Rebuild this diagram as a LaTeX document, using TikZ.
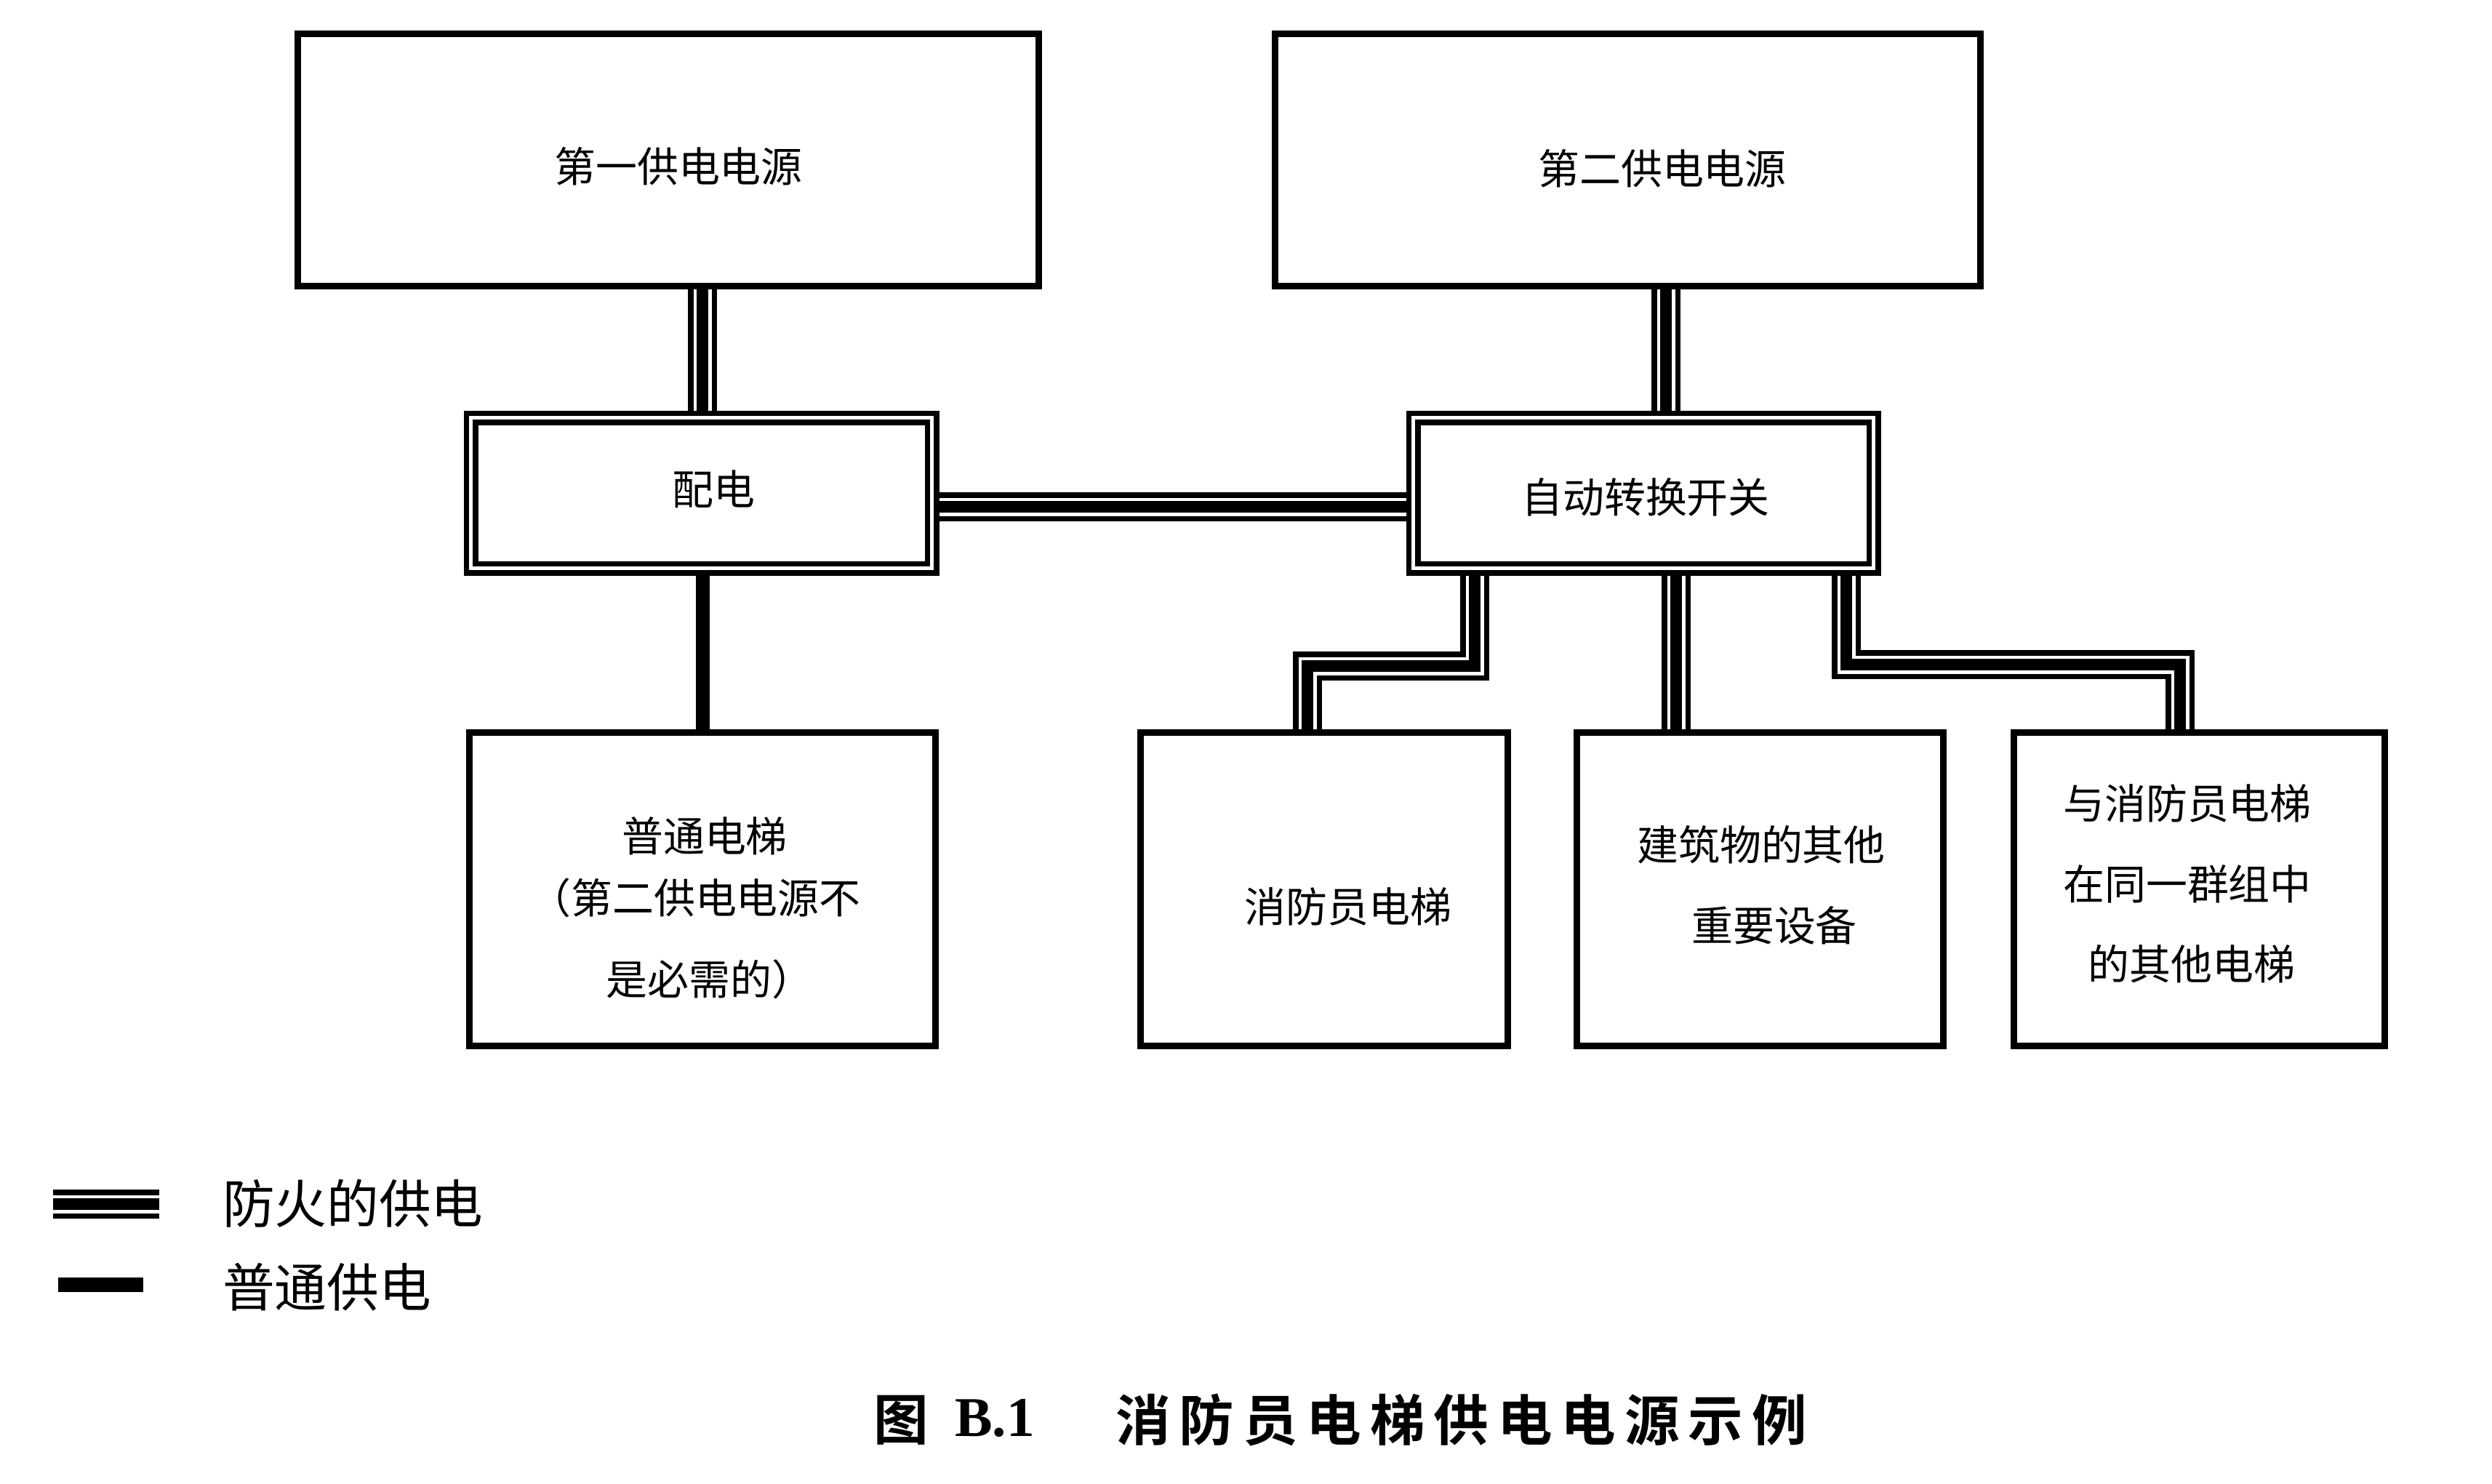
\documentclass[tikz,border=0pt]{standalone}
\usepackage{fontspec}
\usetikzlibrary{backgrounds}
\newfontfamily\cjk{Noto Sans CJK SC}
\newfontfamily\cjkbold{Noto Sans CJK SC Bold}
\newfontfamily\serifcap{Liberation Serif}
\newcommand\capgap{\hspace{3.4pt}}
\begin{document}
\begin{tikzpicture}[
  every node/.style={inner sep=0pt, outer sep=0pt},
  box/.style 2 args={draw=black, fill=white, line width=0.09cm, minimum width=#1cm, minimum height=#2cm},
  dbox/.style 2 args={draw=black, fill=white, double=white, double distance=0.05cm, line width=0.075cm, minimum width=#1cm, minimum height=#2cm},
  fire/.style={draw=black, line width=0.40cm, postaction={draw=white, line width=0.25cm}, postaction={draw=black, line width=0.16cm}},
  plainline/.style={draw=black, line width=0.19cm},
  lbl/.style={font=\cjk\fontsize{16.2pt}{19pt}\selectfont},
  leg/.style={font=\cjk\fontsize{20.4pt}{23pt}\selectfont, anchor=west},
  captxt/.style={font=\cjkbold\fontsize{21.5pt}{25pt}\selectfont},
]
\useasboundingbox (0,0) rectangle (34.27,-20.40);

% boxes
\node[box={10.19}{3.47}] (src1) at (9.19,-2.20) {};
\node[box={9.70}{3.47}] (src2) at (22.385,-2.20) {};
\node[dbox={6.34}{2.07}] (pd) at (9.645,-6.78) {};
\node[dbox={6.33}{2.07}] (ats) at (22.60,-6.78) {};
\node[box={6.41}{4.31}] (lift) at (9.66,-12.23) {};
\node[box={5.05}{4.31}] (fla) at (18.21,-12.23) {};
\node[box={5.04}{4.31}] (flb) at (24.205,-12.23) {};
\node[box={5.10}{4.31}] (flc) at (30.245,-12.23) {};

% texts
\node[lbl] (t1) at (9.33,-2.29) {第一供电电源};
\node[lbl] (t2) at (22.86,-2.32) {第二供电电源};
\node[lbl] (tpd) at (9.81,-6.73) {配电};
\node[lbl] (tats) at (22.63,-6.84) {自动转换开关};
\node[lbl] (tl1) at (9.69,-11.50) {普通电梯};
\node[lbl] (tl2) at (9.56,-12.35) {（第二供电电源不};
\node[lbl] (tl3) at (9.76,-13.47) {是必需的）};
\node[lbl] (ta1) at (18.54,-12.47) {消防员电梯};
\node[lbl] (tb1) at (24.22,-11.62) {建筑物的其他};
\node[lbl] (tb2) at (24.40,-12.73) {重要设备};
\node[lbl] (tc1) at (30.08,-11.05) {与消防员电梯};
\node[lbl] (tc2) at (30.08,-12.16) {在同一群组中};
\node[lbl] (tc3) at (30.14,-13.26) {的其他电梯};

% bend coordinates
\coordinate (x1) at (9.66,-5.0);
\coordinate (x2) at (22.91,-5.0);
\coordinate (hy) at (15.0,-6.97);
\coordinate (ka1) at (20.28,-9.16);
\coordinate (ka2) at (17.98,-9.16);
\coordinate (kb) at (23.05,-9.5);
\coordinate (kc1) at (25.39,-9.14);
\coordinate (kc2) at (29.98,-9.14);

\begin{scope}[on background layer]
\fill[white] (0,0) rectangle (34.27,-20.40);
\draw[fire] (src1.south -| x1) -- (pd.north -| x1);
\draw[fire] (src2.south -| x2) -- (ats.north -| x2);
\draw[fire] (pd.east |- hy) -- (ats.west |- hy);
\draw[plainline] (pd.south -| x1) -- (lift.north -| x1);
\draw[fire] (ats.south -| ka1) -- (ka1) -- (ka2) -- (ka2 |- fla.north);
\draw[fire] (ats.south -| kb) -- (kb |- flb.north);
\draw[fire] (ats.south -| kc1) -- (kc1) -- (kc2) -- (kc2 |- flc.north);
\end{scope}

% legend
\coordinate (lf1) at (0.73,-16.56);
\coordinate (lf2) at (2.19,-16.56);
\coordinate (lp1) at (0.80,-17.67);
\coordinate (lp2) at (1.97,-17.67);
\draw[fire] (lf1) -- (lf2);
\draw[draw=black, line width=0.20cm] (lp1) -- (lp2);
\node[leg] (lgf) at (3.06,-16.55) {防火的供电};
\node[leg] (lgp) at (3.06,-17.70) {普通供电};

% caption
\node[captxt] (cap1) at (12.39,-19.53) {图};
\node[font=\serifcap\bfseries\fontsize{22pt}{25pt}\selectfont] (cap2) at (13.68,-19.50) {B.1};
\node[captxt, anchor=west] (cap3) at (15.34,-19.53) {消\capgap 防\capgap 员\capgap 电\capgap 梯\capgap 供\capgap 电\capgap 电\capgap 源\capgap 示\capgap 例};
\end{tikzpicture}
\end{document}
